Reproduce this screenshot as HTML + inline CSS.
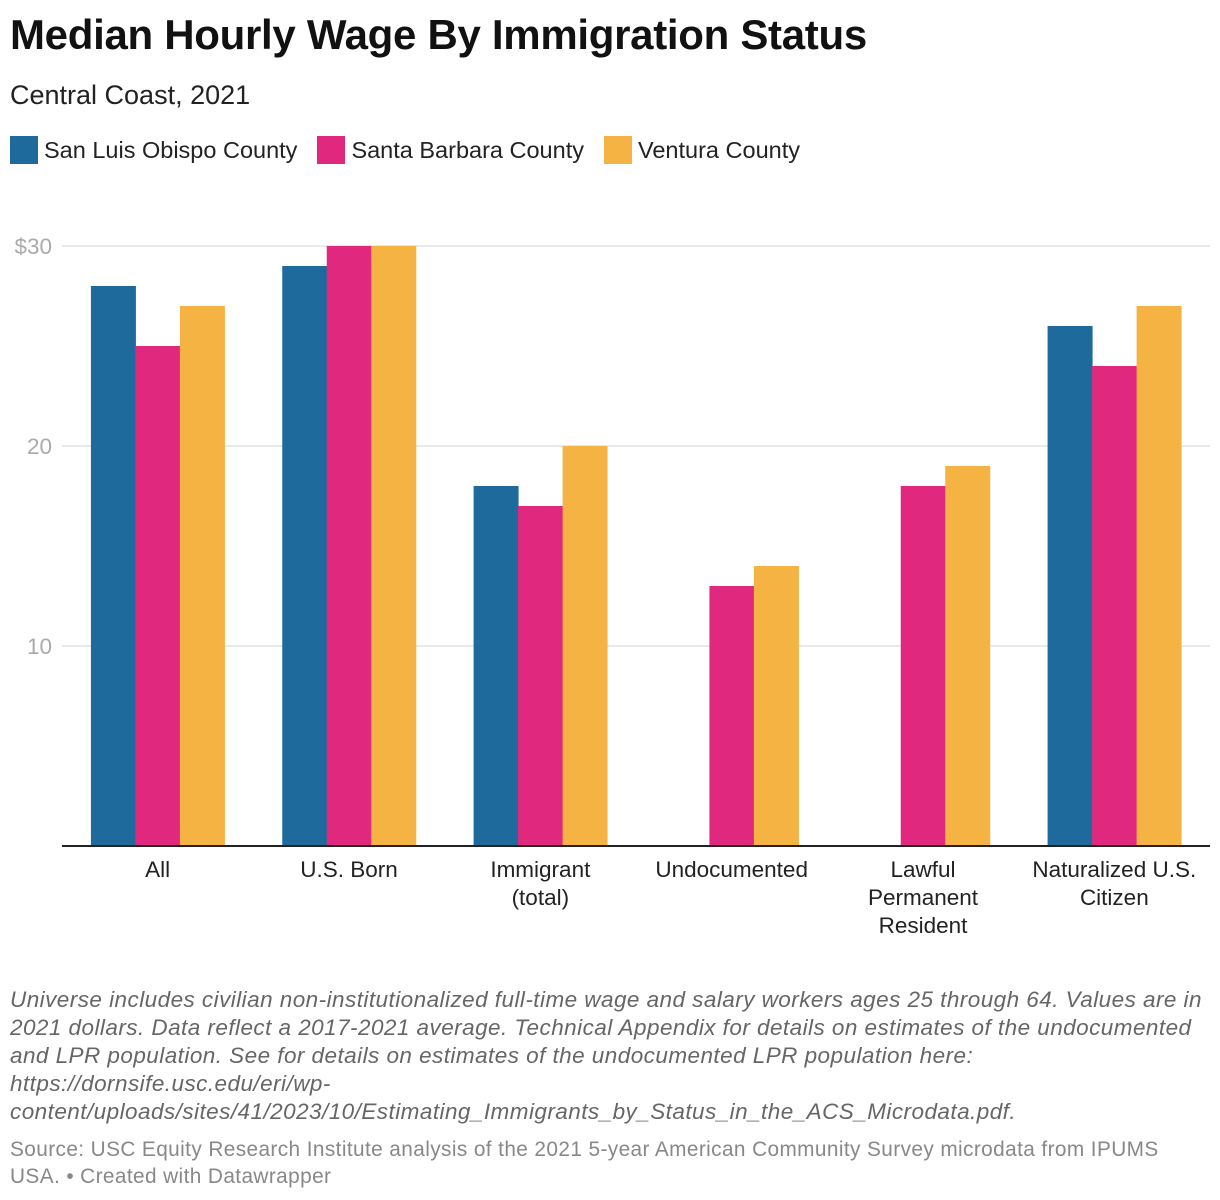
<!DOCTYPE html>
<html><head><meta charset="utf-8">
<style>
body{margin:0;background:#fff;width:1220px;height:1200px;overflow:hidden;font-family:"Liberation Sans",sans-serif;color:#222;position:relative}
.t{position:absolute;left:10px;top:11px;font-size:42px;font-weight:bold;color:#111;letter-spacing:-0.3px}
.s{position:absolute;left:10px;top:80px;font-size:27px;color:#222}
.leg{position:absolute;top:136px;left:10px;display:flex;font-size:23.5px;color:#222}
.li{display:flex;align-items:center;margin-right:20px}
.sw{width:28px;height:28px;margin-right:6px}
.note{position:absolute;left:10px;top:986px;width:1210px;font-size:22.5px;letter-spacing:0.45px;font-style:italic;color:#666;line-height:28px;white-space:nowrap}
.src{position:absolute;left:10px;top:1136px;width:1210px;font-size:20.8px;letter-spacing:0.4px;color:#888;line-height:27px;white-space:nowrap}
</style></head><body>
<div class="t">Median Hourly Wage By Immigration Status</div>
<div class="s">Central Coast, 2021</div>
<div class="leg">
<div class="li"><div class="sw" style="background:#1f6a9c"></div>San Luis Obispo County</div>
<div class="li"><div class="sw" style="background:#e0297e"></div>Santa Barbara County</div>
<div class="li"><div class="sw" style="background:#f4b342"></div>Ventura County</div>
</div>
<svg id="chart" width="1220" height="1200" style="position:absolute;left:0;top:0"></svg>
<div class="note">Universe includes civilian non-institutionalized full-time wage and salary workers ages 25 through 64. Values are in<br>2021 dollars. Data reflect a 2017-2021 average. Technical Appendix for details on estimates of the undocumented<br>and LPR population. See for details on estimates of the undocumented LPR population here:<br>https://dornsife.usc.edu/eri/wp-<br>content/uploads/sites/41/2023/10/Estimating_Immigrants_by_Status_in_the_ACS_Microdata.pdf.</div>
<div class="src">Source: USC Equity Research Institute analysis of the 2021 5-year American Community Survey microdata from IPUMS<br>USA. • Created with Datawrapper</div>
<script>
const categories=[["All"],["U.S. Born"],["Immigrant","(total)"],["Undocumented"],["Lawful","Permanent","Resident"],["Naturalized U.S.","Citizen"]];
const sloValues=[28,29,18,null,null,26];
const sbValues=[25,30,17,13,18,24];
const venturaValues=[27,30,20,14,19,27];
const tickValues=[10,20,30];
const tickLabels=["10","20","$30"];
const series=[{name:"slo",vals:sloValues,color:"#1f6a9c"},{name:"sb",vals:sbValues,color:"#e0297e"},{name:"ventura",vals:venturaValues,color:"#f4b342"}];
const svg=document.getElementById('chart');const NS="http://www.w3.org/2000/svg";
const x0=62,x1=1210,yBase=846,yTop=246,vMax=30;
const y=v=>yBase-(v/vMax)*(yBase-yTop);
const gw=(x1-x0)/categories.length, bw=44.5, pad=(gw-bw*3)/2;
function mk(t,a){const e=document.createElementNS(NS,t);for(const k in a)e.setAttribute(k,a[k]);svg.appendChild(e);return e;}
tickValues.forEach((v,i)=>{
 const g=mk('line',{x1:x0,x2:x1,y1:y(v),y2:y(v),stroke:'#e2e2e2','stroke-width':1.5});
 
 
 const t=mk('text',{x:52,y:y(v)+8,'text-anchor':'end','font-size':22.5,fill:'#aaa','font-family':'Liberation Sans, sans-serif'});
 t.textContent=tickLabels[i];
 
 
});
categories.forEach((c,ci)=>{
 const gx=x0+ci*gw+pad;
 series.forEach((s,si)=>{
  const v=s.vals[ci]; if(v==null)return;
  const r=mk('rect',{x:gx+si*bw,y:y(v),width:bw+0.5,height:yBase-y(v),fill:s.color});
  
  
 });
 const t=mk('text',{x:x0+ci*gw+gw/2,y:877,'text-anchor':'middle','font-size':22.5,fill:'#222','font-family':'Liberation Sans, sans-serif'});
 
 
 c.forEach((l,li)=>{const ts=document.createElementNS(NS,'tspan');ts.setAttribute('x',x0+ci*gw+gw/2);ts.setAttribute('dy',li?28:0);ts.textContent=l;t.appendChild(ts);});
});
const b=mk('line',{x1:x0,x2:x1,y1:yBase,y2:yBase,stroke:'#222','stroke-width':2});


</script>
</body></html>
